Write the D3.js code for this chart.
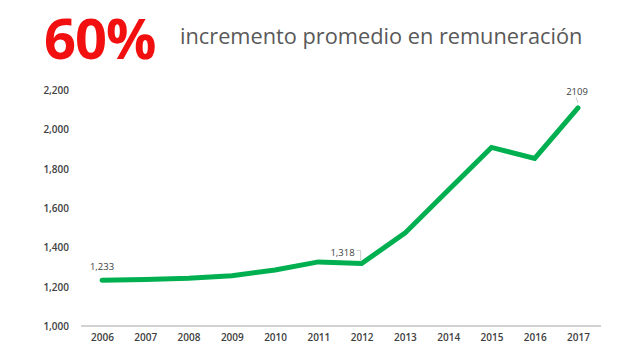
<!DOCTYPE html>
<html><head><meta charset="utf-8">
<script src="https://cdn.jsdelivr.net/npm/d3@7"></script>
<style>body{margin:0;background:#fff}svg{display:block}</style>
</head><body>
<svg id="c" width="640" height="358"></svg>
<script>
const years = ["2006","2007","2008","2009","2010","2011","2012","2013","2014","2015","2016","2017"];
const values = [1233,1236,1243,1256,1285,1326,1318,1472,1690,1908,1852,2109];
const yTicks = [1000,1200,1400,1600,1800,2000,2200];
const labels = [{i:0,text:"1,233"},{i:6,text:"1,318"},{i:11,text:"2109"}];

const svg = d3.select("#c");
const x = d3.scalePoint().domain(years).range([102,578]);
const y = d3.scaleLinear().domain([1000,2200]).range([326,90]);

svg.append("text").attr("x",44).attr("y",59).attr("fill","#f20f0f")
  .attr("font-family","Open Sans").attr("font-weight","bold").attr("font-size",56)
  .attr("letter-spacing",-1).text("60%");
svg.append("text").attr("x",180).attr("y",44).attr("fill","#595959")
  .attr("font-family","Open Sans").attr("font-size",21.75).text("incremento promedio en remuneración");

const yAxis = d3.axisLeft(y).tickValues(yTicks).tickSize(0).tickFormat(d3.format(","));
const gy = svg.append("g").attr("transform","translate(72,0)").call(yAxis);
gy.select(".domain").remove();
gy.selectAll("text").attr("font-family","Open Sans").attr("font-size",10).attr("font-weight","600").attr("fill","#404040").attr("dy","0.35em");

svg.append("line").attr("x1",81).attr("x2",601).attr("y1",y(1000)).attr("y2",y(1000)).attr("stroke","#a6a6a6").attr("stroke-width",1);
const xAxis = d3.axisBottom(x).tickSize(0).tickPadding(8);
const gx = svg.append("g").attr("transform",`translate(0,${y(1000)})`).call(xAxis);
gx.select(".domain").remove();
gx.selectAll("text").attr("font-family","Open Sans").attr("font-size",10).attr("font-weight","600").attr("fill","#404040");

const line = d3.line().x((d,i)=>x(years[i])).y(d=>y(d));
svg.append("path").datum(values).attr("d",line).attr("fill","none").attr("stroke","#00b050")
  .attr("stroke-width",5).attr("stroke-linejoin","miter").attr("stroke-linecap","round");

// leader lines
svg.append("path").attr("d",`M${x(years[6])-5},${y(values[6])-13} h4 v10`).attr("fill","none").attr("stroke","#bfbfbf").attr("stroke-width",0.8);
svg.append("path").attr("d",`M${x(years[11])-2},${y(values[11])-11} l2,6`).attr("fill","none").attr("stroke","#bfbfbf").attr("stroke-width",0.8);

const lab = svg.append("g").attr("font-family","Open Sans").attr("font-size",9.5).attr("fill","#404040");
lab.append("text").attr("x",x(years[0])).attr("y",y(values[0])-10).attr("text-anchor","middle").text(labels[0].text);
lab.append("text").attr("x",x(years[6])-7).attr("y",y(values[6])-7).attr("text-anchor","end").text(labels[1].text);
lab.append("text").attr("x",x(years[11])-1).attr("y",y(values[11])-13).attr("text-anchor","middle").text(labels[2].text);
</script>
</body></html>
